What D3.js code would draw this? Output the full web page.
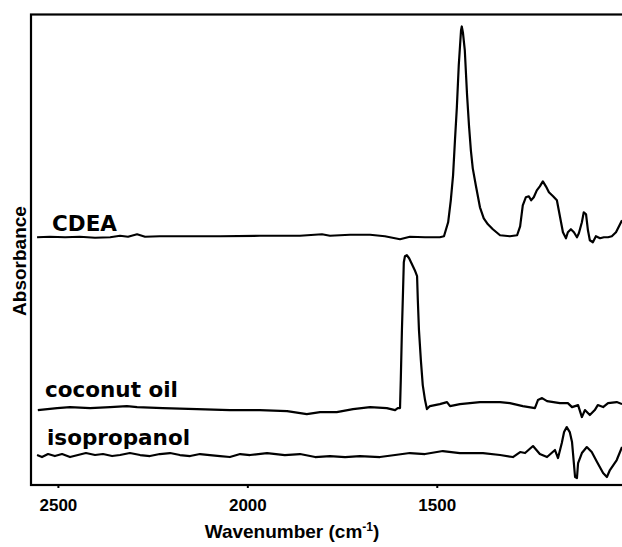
<!DOCTYPE html>
<html>
<head>
<meta charset="utf-8">
<script src="https://cdn.jsdelivr.net/npm/d3@7"></script>
<style>
  html, body { margin: 0; padding: 0; background: #fff; }
  svg { display: block; }
</style>
</head>
<body>
<script>
// ---- data (wavenumber cm-1, absorbance a.u.) ----
const xTicks = [2500, 2000, 1500];
const seriesNames = ["CDEA", "coconut oil", "isopropanol"];

const cdea = [
  [2555,2.48],[2521,2.485],[2481,2.48],[2442,2.485],[2402,2.475],[2362,2.48],[2336,2.495],
  [2315,2.485],[2291,2.51],[2270,2.485],[2231,2.49],[2151,2.49],[2072,2.49],[1967,2.495],
  [1861,2.495],[1803,2.51],[1782,2.495],[1729,2.505],[1676,2.505],[1637,2.49],[1597,2.46],
  [1571,2.485],[1531,2.48],[1492,2.48],[1481,2.49],[1470,2.63],[1463,2.85],[1457,3.10],
  [1452,3.45],[1447,3.78],[1442,4.20],[1436,4.55],[1434,4.59],[1431,4.53],[1426,4.35],
  [1420,3.90],[1415,3.60],[1410,3.35],[1405,3.17],[1397,3.00],[1386,2.78],[1376,2.67],
  [1365,2.61],[1352,2.56],[1333,2.50],[1307,2.49],[1288,2.50],[1280,2.59],[1273,2.80],
  [1265,2.88],[1257,2.89],[1251,2.85],[1244,2.88],[1236,2.95],[1228,2.99],[1220,3.04],
  [1212,2.99],[1204,2.93],[1193,2.89],[1183,2.85],[1178,2.75],[1172,2.63],[1167,2.53],
  [1159,2.47],[1154,2.53],[1146,2.56],[1138,2.53],[1130,2.48],[1125,2.52],[1117,2.63],
  [1112,2.73],[1106,2.71],[1101,2.55],[1096,2.45],[1088,2.43],[1080,2.49],[1069,2.47],
  [1059,2.48],[1048,2.48],[1038,2.49],[1027,2.53],[1019,2.59],[1011,2.65]
];

const coconutOil = [
  [2553,0.75],[2502,0.77],[2468,0.78],[2415,0.77],[2362,0.78],[2318,0.79],[2291,0.78],
  [2223,0.77],[2133,0.76],[2046,0.75],[1967,0.75],[1895,0.74],[1843,0.71],[1808,0.73],
  [1764,0.73],[1721,0.76],[1676,0.78],[1632,0.77],[1610,0.75],[1603,0.77],[1597,0.77],
  [1595,1.05],[1592,1.55],[1589,1.95],[1587,2.23],[1584,2.29],[1579,2.30],[1573,2.27],
  [1568,2.23],[1563,2.19],[1558,2.15],[1552,2.09],[1550,1.85],[1547,1.55],[1542,1.25],
  [1537,1.00],[1531,0.85],[1526,0.76],[1518,0.79],[1492,0.81],[1473,0.83],[1465,0.79],
  [1439,0.81],[1386,0.83],[1333,0.83],[1307,0.82],[1273,0.79],[1241,0.77],[1233,0.85],
  [1222,0.87],[1209,0.84],[1175,0.82],[1154,0.82],[1143,0.78],[1127,0.80],[1117,0.68],
  [1109,0.75],[1096,0.70],[1083,0.75],[1075,0.80],[1061,0.78],[1048,0.82],[1025,0.83],
  [1011,0.81]
];

const isopropanol = [
  [2555,0.30],[2542,0.28],[2526,0.31],[2508,0.29],[2489,0.31],[2468,0.28],[2447,0.30],
  [2426,0.32],[2402,0.30],[2381,0.31],[2357,0.29],[2336,0.30],[2310,0.32],[2283,0.30],
  [2257,0.29],[2231,0.31],[2204,0.32],[2178,0.30],[2151,0.29],[2125,0.31],[2099,0.30],
  [2072,0.29],[2046,0.28],[2019,0.31],[1993,0.30],[1948,0.32],[1901,0.30],[1861,0.31],
  [1821,0.28],[1782,0.29],[1742,0.28],[1703,0.29],[1650,0.28],[1610,0.30],[1571,0.32],
  [1531,0.31],[1484,0.34],[1439,0.32],[1378,0.32],[1333,0.30],[1299,0.28],[1280,0.33],
  [1267,0.32],[1246,0.39],[1228,0.31],[1209,0.28],[1188,0.35],[1180,0.27],[1170,0.42],
  [1164,0.53],[1157,0.58],[1149,0.53],[1143,0.43],[1135,0.08],[1130,0.07],[1127,0.22],
  [1117,0.32],[1104,0.38],[1091,0.33],[1077,0.23],[1061,0.12],[1051,0.08],[1043,0.15],
  [1025,0.25],[1011,0.38]
];

// ---- layout ----
const W = 622, H = 547;
const plot = { left: 31, right: 630, top: 14.5, bottom: 485 };

const svg = d3.select("body").append("svg")
  .attr("width", W).attr("height", H);

const x = d3.scaleLinear().domain([2571, 990]).range([plot.left, plot.right]);
const y = d3.scaleLinear().domain([0, 4.71]).range([plot.bottom, plot.top]);

svg.append("defs").append("clipPath").attr("id", "clip")
  .append("rect")
  .attr("x", plot.left + 1).attr("y", plot.top + 1)
  .attr("width", plot.right - plot.left).attr("height", plot.bottom - plot.top - 2);

const line = d3.line().x(d => x(d[0])).y(d => y(d[1]));

const g = svg.append("g").attr("clip-path", "url(#clip)");
[cdea, coconutOil, isopropanol].forEach(s => {
  g.append("path")
    .datum(s)
    .attr("d", line)
    .attr("fill", "none")
    .attr("stroke", "#000")
    .attr("stroke-width", 2.2)
    .attr("stroke-linejoin", "round");
});

// frame
svg.append("rect")
  .attr("x", plot.left).attr("y", plot.top)
  .attr("width", plot.right - plot.left + 10)
  .attr("height", plot.bottom - plot.top)
  .attr("fill", "none").attr("stroke", "#000").attr("stroke-width", 2.2);

// x axis
const xAxis = d3.axisBottom(x).tickValues(xTicks).tickFormat(d3.format("d"))
  .tickSize(3).tickSizeOuter(0).tickPadding(11);
const ax = svg.append("g").attr("transform", `translate(0,${plot.bottom})`).call(xAxis);
ax.select(".domain").remove();
ax.selectAll(".tick line").attr("stroke", "#000").attr("stroke-width", 2);
ax.selectAll(".tick text")
  .attr("fill", "#000")
  .style("font-family", "'Liberation Sans', Arial, sans-serif")
  .style("font-weight", "bold")
  .style("font-size", "17px");

// axis titles
const title = svg.append("text")
  .attr("x", 292).attr("y", 538)
  .attr("text-anchor", "middle")
  .style("font-family", "'Liberation Sans', Arial, sans-serif")
  .style("font-weight", "bold")
  .style("font-size", "19px");
title.append("tspan").text("Wavenumber (cm");
title.append("tspan").text("-1").attr("dy", -7).style("font-size", "12px");
title.append("tspan").text(")").attr("dy", 7);

svg.append("text")
  .attr("transform", "translate(26,261) rotate(-90)")
  .attr("text-anchor", "middle")
  .style("font-family", "'Liberation Sans', Arial, sans-serif")
  .style("font-weight", "bold")
  .style("font-size", "19px")
  .text("Absorbance");

// series labels
const labelPos = [[52, 231], [45, 397], [47, 445]];
seriesNames.forEach((n, i) => {
  svg.append("text")
    .attr("x", labelPos[i][0]).attr("y", labelPos[i][1])
    .style("font-family", "'DejaVu Sans', Verdana, sans-serif")
    .style("font-weight", "bold")
    .style("font-size", "21.5px")
    .text(n);
});
</script>
</body>
</html>
